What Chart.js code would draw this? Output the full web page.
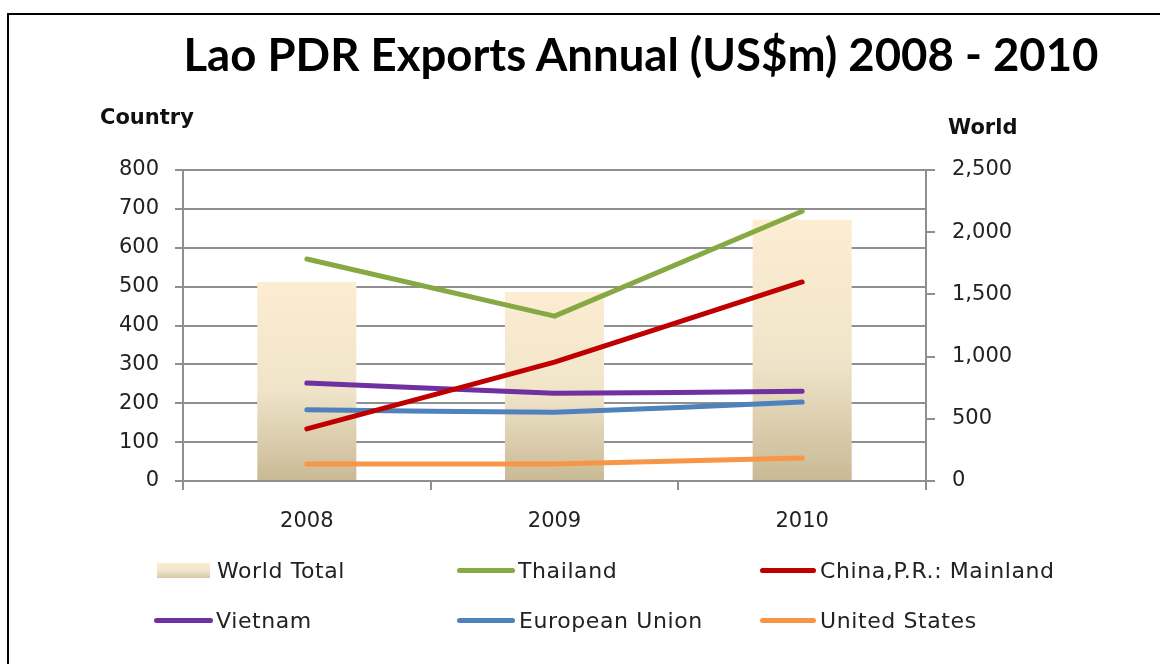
<!DOCTYPE html>
<html>
<head>
<meta charset="utf-8">
<title>Lao PDR Exports Annual (US$m) 2008 - 2010</title>
<script src="https://cdn.jsdelivr.net/npm/chart.js@4.4.1/dist/chart.umd.min.js"></script>
<style>
  body { margin: 0; background: #fff; }
  #wrap { position: relative; width: 1160px; height: 664px; overflow: hidden; background: #fff; }
  #frame { position: absolute; left: 7px; top: 13px; width: 1200px; height: 700px; border-top: 2px solid #000; border-left: 2px solid #000; }
  #myChart { position: absolute; left: 0; top: 0; }
  .txt { position: absolute; white-space: nowrap; font-family: "DejaVu Sans", sans-serif; color: #222; line-height: 1; }
  #title { left: 141px; width: 1000px; top: 31px; text-align: center; font-family: Lato, sans-serif; font-weight: bold; font-size: 45.5px; color: #000; }
  .axt { font-weight: bold; font-size: 21px; color: #111; }
  .leg { font-size: 22px; letter-spacing: 0.6px; color: #222; }
  .sw { position: absolute; height: 5px; border-radius: 3px; }
</style>
</head>
<body>
<div id="wrap">
  <div id="frame"></div>
  <canvas id="myChart" width="1160" height="664"></canvas>
  <div id="title" class="txt">Lao PDR Exports Annual (US$m) 2008 - 2010</div>
  <div class="txt axt" style="left:100px; top:107px;">Country</div>
  <div class="txt axt" style="left:948px; top:117px;">World</div>
  <div id="legend"></div>
</div>
<script>
// datos del grafico
const categories = ['2008', '2009', '2010'];
const worldTotal = [1600, 1520, 2100];
const thailand = [571, 424, 694];
const china = [134, 306, 512];
const vietnam = [252, 226, 231];
const europeanUnion = [183, 177, 203];
const unitedStates = [44, 44, 59];
const countryTicks = [0, 100, 200, 300, 400, 500, 600, 700, 800];
const worldTicks = [0, 500, 1000, 1500, 2000, 2500];

const gridColor = '#8f8f8f';
const tickFont = { family: 'DejaVu Sans', size: 21 };

/* degradado de cada barra: claro arriba, marron abajo */
function barGradient(context) {
  const chart = context.chart;
  const scale = chart.scales.yWorld;
  const area = chart.chartArea;
  if (!scale || !area || context.type !== 'data') return '#f3e8cf';
  const top = scale.getPixelForValue(context.raw);
  const bottom = scale.getPixelForValue(0);
  if (!isFinite(top) || bottom - top < 1) return '#f3e8cf';
  const g = chart.ctx.createLinearGradient(0, top, 0, bottom);
  g.addColorStop(0, '#fdedd2');
  g.addColorStop(0.55, '#efe4c9');
  g.addColorStop(1, '#c9b995');
  return g;
}

const lineSeries = [
  { label: 'Thailand', data: thailand, color: '#86a944', tension: 0 },
  { label: 'China,P.R.: Mainland', data: china, color: '#c00000', tension: 0.05 },
  { label: 'Vietnam', data: vietnam, color: '#7030a0', tension: 0.12 },
  { label: 'European Union', data: europeanUnion, color: '#4f81bd', tension: 0.12 },
  { label: 'United States', data: unitedStates, color: '#f79646', tension: 0.12 }
];

const datasets = [{
  type: 'bar',
  label: 'World Total',
  data: worldTotal,
  yAxisID: 'yWorld',
  backgroundColor: barGradient,
  borderWidth: 0,
  barPercentage: 0.8,
  categoryPercentage: 0.5,
  order: 10
}];

lineSeries.forEach(function (s, i) {
  datasets.push({
    type: 'line',
    label: s.label,
    data: s.data,
    yAxisID: 'yCountry',
    borderColor: s.color,
    backgroundColor: s.color,
    borderWidth: 5,
    borderCapStyle: 'round',
    borderJoinStyle: 'round',
    tension: s.tension,
    pointRadius: 0,
    pointHoverRadius: 0,
    fill: false,
    order: i + 1
  });
});

const ctx = document.getElementById('myChart');

new Chart(ctx, {
  data: {
    labels: categories,
    datasets: datasets
  },
  options: {
    responsive: false,
    animation: false,
    layout: {
      padding: { left: 0, right: 0, top: 170, bottom: 123 }
    },
    plugins: {
      legend: { display: false },
      title: { display: false },
      tooltip: { enabled: false }
    },
    scales: {
      x: {
        type: 'category',
        offset: true,
        grid: { offset: true, drawOnChartArea: false, drawTicks: true, tickLength: 9, color: gridColor, lineWidth: 2 },
        border: { color: gridColor, width: 2 },
        ticks: { font: tickFont, color: '#222', padding: 19, maxRotation: 0 },
        afterFit: function (scale) { scale.height = 60; }
      },
      yCountry: {
        type: 'linear',
        position: 'left',
        min: 0,
        max: 800,
        afterBuildTicks: function (scale) {
          scale.ticks = countryTicks.map(function (v) { return { value: v }; });
        },
        grid: { color: gridColor, lineWidth: 2, tickLength: 8 },
        border: { color: gridColor, width: 2 },
        ticks: { font: tickFont, color: '#222', padding: 16 },
        afterFit: function (scale) { scale.width = 183; }
      },
      yWorld: {
        type: 'linear',
        position: 'right',
        min: 0,
        max: 2500,
        afterBuildTicks: function (scale) {
          scale.ticks = worldTicks.map(function (v) { return { value: v }; });
        },
        grid: { drawOnChartArea: false, color: gridColor, lineWidth: 2, tickLength: 9 },
        border: { color: gridColor, width: 2 },
        ticks: {
          font: tickFont,
          color: '#222',
          padding: 17,
          callback: function (v) { return Number(v).toLocaleString('en-US'); }
        },
        afterFit: function (scale) { scale.width = 234; }
      }
    }
  }
});

// leyenda en html (dos filas, tres columnas como en el original)
const legendItems = [
  { label: 'World Total', bar: true, sx: 157, sw: 53, tx: 217, y: 571 },
  { label: 'Thailand', color: '#86a944', sx: 457, sw: 58, tx: 518, y: 571 },
  { label: 'China,P.R.: Mainland', color: '#c00000', sx: 760, sw: 56, tx: 820, y: 571 },
  { label: 'Vietnam', color: '#7030a0', sx: 154, sw: 59, tx: 216, y: 621 },
  { label: 'European Union', color: '#4f81bd', sx: 457, sw: 58, tx: 519, y: 621 },
  { label: 'United States', color: '#f79646', sx: 760, sw: 56, tx: 820, y: 621 }
];

var legend = document.getElementById('legend');
legendItems.forEach(function (item) {
  var sw = document.createElement('div');
  sw.className = 'sw';
  sw.style.left = item.sx + 'px';
  sw.style.width = item.sw + 'px';
  if (item.bar) {
    sw.style.top = (item.y - 8) + 'px';
    sw.style.height = '15px';
    sw.style.borderRadius = '0';
    sw.style.background = 'linear-gradient(#fdedd2, #efe4c9 55%, #d6c8a6)';
  } else {
    sw.style.top = (item.y - 3) + 'px';
    sw.style.background = item.color;
  }
  legend.appendChild(sw);

  var t = document.createElement('div');
  t.className = 'txt leg';
  t.style.left = item.tx + 'px';
  t.style.top = (item.y - 10.6) + 'px';
  t.textContent = item.label;
  legend.appendChild(t);
});
</script>
</body>
</html>
